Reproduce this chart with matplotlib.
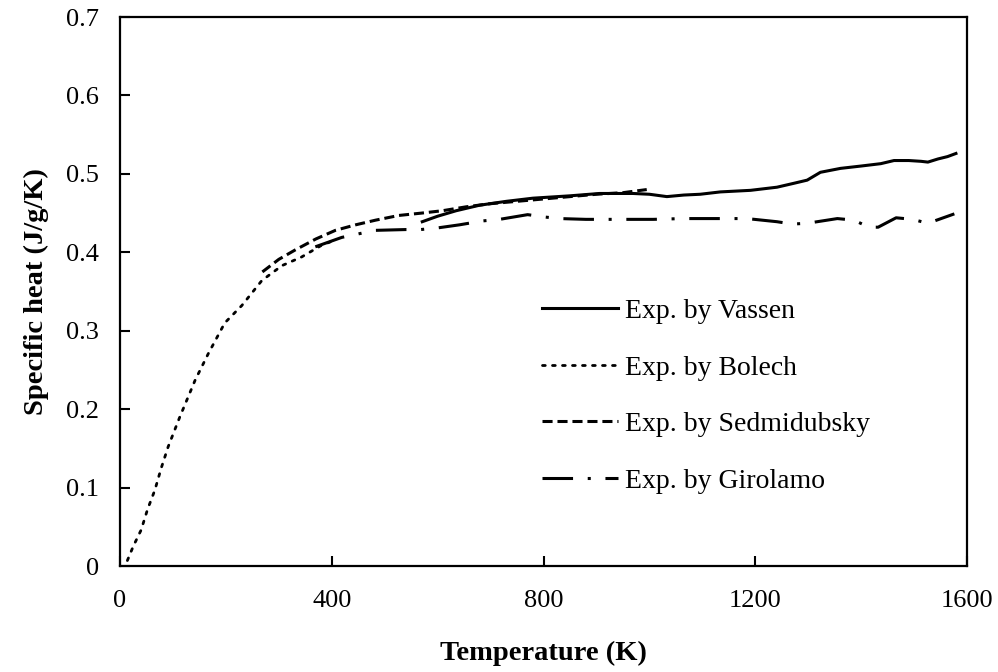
import matplotlib
matplotlib.use("Agg")
import matplotlib.pyplot as plt

plt.rcParams['font.family'] = ['Liberation Serif', 'DejaVu Serif']

# Exp. by Vassen (solid)
vassen_T = [571, 600, 635, 679, 730, 780, 850, 906, 969, 1000, 1033, 1065, 1096, 1134, 1191,
            1241, 1273, 1298, 1323, 1361, 1400, 1437, 1462, 1490, 1513, 1526, 1545, 1563, 1579]
vassen_c = [0.439, 0.446, 0.453, 0.460, 0.465, 0.469, 0.472, 0.475, 0.475, 0.474, 0.471, 0.473,
            0.474, 0.477, 0.479, 0.483, 0.488, 0.492, 0.502, 0.507, 0.510, 0.513, 0.517, 0.517,
            0.516, 0.515, 0.519, 0.522, 0.526]

# Exp. by Bolech (dotted)
bolech_T = [14, 25, 40, 52, 66, 78, 91, 113, 142, 167, 198, 230, 268, 306, 343, 381, 400]
bolech_c = [0.007, 0.025, 0.046, 0.072, 0.097, 0.125, 0.152, 0.190, 0.237, 0.271, 0.310,
            0.332, 0.364, 0.383, 0.394, 0.409, 0.414]

# Exp. by Sedmidubsky (dashed)
sedmi_T = [269, 300, 331, 370, 407, 445, 483, 527, 570, 609, 654, 700, 750, 800, 850, 900, 950, 995]
sedmi_c = [0.375, 0.391, 0.403, 0.417, 0.428, 0.435, 0.441, 0.447, 0.450, 0.453, 0.458, 0.462,
           0.465, 0.468, 0.471, 0.474, 0.476, 0.480]

# Exp. by Girolamo (dash-dot)
giro_T = [369, 419, 454, 483, 540, 568, 599, 641, 685, 717, 770, 802, 831, 880, 948, 1007,
          1064, 1124, 1184, 1241, 1270, 1298, 1355, 1386, 1415, 1432, 1466, 1497, 1526, 1576]
giro_c = [0.407, 0.419, 0.424, 0.428, 0.429, 0.429, 0.431, 0.435, 0.440, 0.442, 0.448, 0.445,
          0.443, 0.442, 0.442, 0.442, 0.443, 0.443, 0.443, 0.439, 0.436, 0.437, 0.443, 0.441,
          0.432, 0.432, 0.444, 0.442, 0.437, 0.449]

labels = ["Exp. by Vassen", "Exp. by Bolech", "Exp. by Sedmidubsky", "Exp. by Girolamo"]
xticks = [0, 400, 800, 1200, 1600]
yticks = [0, 0.1, 0.2, 0.3, 0.4, 0.5, 0.6, 0.7]
ytick_labels = ["0", "0.1", "0.2", "0.3", "0.4", "0.5", "0.6", "0.7"]

fig = plt.figure(figsize=(9.98, 6.72), dpi=100)
ax = fig.add_axes([0.1202, 0.1577, 0.8488, 0.817])

lw = 2.2
ax.plot(vassen_T, vassen_c, color='black', lw=lw, linestyle='-', label=labels[0])
ax.plot(bolech_T, bolech_c, color='black', lw=2.0, linestyle=(0, (1, 2.6)),
        dash_capstyle='round', label=labels[1])
ax.plot(sedmi_T, sedmi_c, color='black', lw=lw, linestyle=(0, (3.3, 1.6)), label=labels[2])
ax.plot(giro_T, giro_c, color='black', lw=lw, linestyle=(0, (10, 4.8, 1, 4.8)), label=labels[3])

ax.set_xlim(0, 1600)
ax.set_ylim(0, 0.7)
ax.set_xticks(xticks)
ax.set_xticklabels([str(t) for t in xticks])
ax.set_yticks(yticks)
ax.set_yticklabels(ytick_labels)
ax.tick_params(direction='in', length=7, width=1.5, labelsize=19, colors='black')
ax.tick_params(axis='y', pad=15)
ax.tick_params(axis='x', pad=17)
for s in ax.spines.values():
    s.set_linewidth(1.6)

ax.set_xlabel("Temperature (K)", fontsize=20.5, fontweight='bold', labelpad=21)
ax.set_ylabel("Specific heat (J/g/K)", fontsize=20.5, fontweight='bold', labelpad=12)

leg = ax.legend(loc='upper left', bbox_to_anchor=(0.498, 0.487), frameon=False, fontsize=20,
                handlelength=2.75, handletextpad=0.25, labelspacing=1.12, borderaxespad=0,
                borderpad=0)

fig.savefig("out.png", dpi=100)
